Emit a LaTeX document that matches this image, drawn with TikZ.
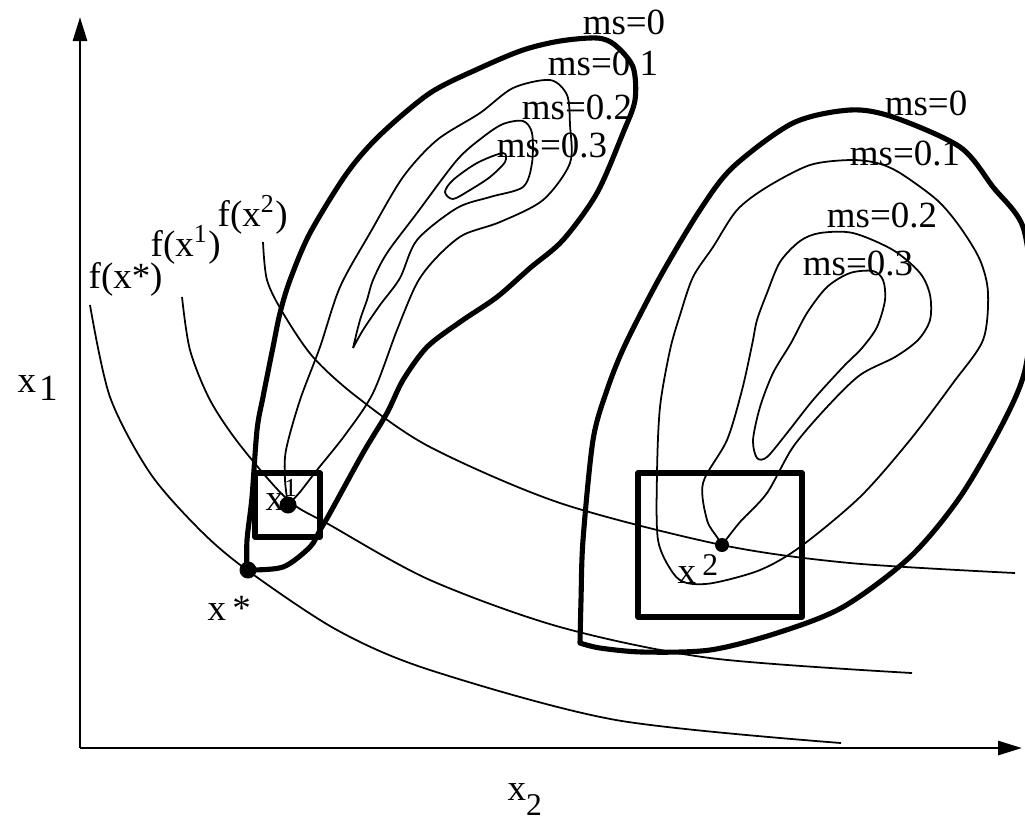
\documentclass[tikz,border=0pt]{standalone}
\usepackage{fontspec}
\setmainfont{Liberation Serif}
\usetikzlibrary{arrows.meta}
\begin{document}
\begin{tikzpicture}[x=0.01cm,y=-0.01cm,
  thickc/.style={line width=1.45pt, line join=round, line cap=round},
  thinc/.style={line width=0.5pt, line join=round},
  iso/.style={line width=0.5pt},
  boxc/.style={line width=1.5pt, line join=round},
  axis/.style={line width=0.8pt, -{Triangle[length=0.24cm,width=0.14cm]}},
  lbl/.style={font=\fontsize{10.5pt}{12pt}\selectfont, inner sep=0pt},
  dot/.style={circle, fill, inner sep=0pt, minimum size=0.17cm}]
\useasboundingbox (0,0) rectangle (1025,817);

% axes
\coordinate (O) at (80,748);
\coordinate (ytop) at (80,17);
\coordinate (xend) at (1022,748);
\draw[axis] (O) -- (ytop);
\draw[axis] (O) -- (xend);

% left region: ms=0 (thick)
\draw[thickc] plot[smooth] coordinates {(247,570) (283,567) (310,547) (320,530) (330,513) (363,453) (387,413) (403,380) (427,347) (460,322) (497,297) (530,268) (563,240) (597,193) (623,133) (635,100) (633,67) (615,45) (597,38) (560,41) (523,50) (480,68) (430,93) (380,135) (347,173) (310,233) (290,280) (280,313) (273,347) (263,397) (257,430) (252,497) (247,540) (247,570)};
% left ms=0.1
\draw[thinc] plot[smooth] coordinates {(288,505) (285,480) (286,450) (300,400) (320,347) (340,287) (370,233) (403,177) (437,140) (480,113) (513,88) (550,80) (567,95) (570,125) (570,163) (543,200) (500,222) (463,235) (437,257) (417,283) (397,330) (373,393) (345,435) (317,470) (300,492) (288,505)};
% left ms=0.2
\draw[thinc] plot[smooth] coordinates {(353,348) (360,320) (367,300) (373,280) (387,253) (417,213) (457,160) (483,137) (503,124) (523,121) (532,133) (532,163) (523,187) (490,197) (457,208) (417,240) (400,278) (380,305) (363,330) (353,348)};
% left ms=0.3
\draw[thinc] plot[smooth cycle] coordinates {(445,192) (453,180) (477,163) (503,153) (505,162) (490,177) (470,190) (453,199)};

% right region: ms=0 (thick)
\draw[thickc] plot[smooth] coordinates {(580,643) (581,600) (583,540) (593,440) (607,390) (625,345) (660,277) (700,210) (733,167) (793,123) (850,110) (893,117) (960,147) (993,187) (1023,227) (1032,300) (1025,370) (1003,423) (960,497) (910,557) (843,607) (777,633) (710,650) (643,652) (600,648) (580,643)};
% right ms=0.1
\draw[thinc] plot[smooth cycle] coordinates {(850,160) (877,163) (900,173) (937,200) (960,227) (980,260) (988,293) (983,340) (953,383) (910,440) (860,497) (800,547) (760,570) (713,583) (687,583) (673,573) (658,540) (657,473) (660,407) (670,350) (680,315) (693,277) (713,247) (737,210) (767,187) (810,165)};
% right ms=0.2
\draw[thinc] plot[smooth] coordinates {(722,545) (717,537) (707,520) (703,483) (727,440) (742,390) (752,345) (757,320) (767,293) (780,262) (800,241) (820,233) (853,233) (893,250) (920,273) (930,295) (930,320) (918,340) (895,357) (860,375) (827,407) (793,447) (767,493) (740,522) (722,545)};
% right ms=0.3
\draw[thinc] plot[smooth cycle] coordinates {(850,273) (873,271) (883,280) (885,300) (877,327) (862,348) (843,367) (813,400) (787,433) (767,457) (757,458) (753,440) (760,407) (773,373) (791,343) (807,313) (827,287)};

% level curves of f
\draw[iso] plot[smooth] coordinates {(90,305) (110,397) (150,473) (200,530) (247,570) (337,630) (430,670) (616,720) (841,743)};
\draw[iso] plot[smooth] coordinates {(182,297) (190,350) (210,400) (240,445) (288,500) (330,525) (430,580) (560,627) (710,658) (912,673)};
\draw[iso] plot[smooth] coordinates {(263,242) (267,280) (283,313) (313,357) (357,397) (430,447) (560,503) (722,545) (850,563) (1015,573)};

% trust-region boxes
\draw[boxc] (255,473) rectangle (320,537);
\draw[boxc] (638,473) rectangle (802,617);

% points
\node[dot] (x1) at (288,505) {};
\node[dot, minimum size=0.14cm] (x2) at (722,545) {};
\node[dot] (xs) at (248,570) {};

% labels
\node[lbl] (lL0) at (624,22) {ms=0};
\node[lbl] (lL1) at (603,63) {ms=0.1};
\node[lbl] (lL2) at (577,107) {ms=0.2};
\node[lbl] (lL3) at (552,145) {ms=0.3};
\node[lbl] (lR0) at (926,103) {ms=0};
\node[lbl] (lR1) at (905,153) {ms=0.1};
\node[lbl] (lR2) at (882,215) {ms=0.2};
\node[lbl] (lR3) at (858,263) {ms=0.3};

\node[lbl, anchor=base west] (fs) at (88,288) {f(x*)};
\node[lbl, anchor=base west] (f1) at (150,256) {f(x\textsuperscript{1})};
\node[lbl, anchor=base west] (f2) at (217,226) {f(x\textsuperscript{2})};

\node[lbl, anchor=base west] (lx1) at (265,510) {x\textsuperscript{1}};
\node[lbl, anchor=base west] (lx2) at (677,583) {x\,\raisebox{0.08cm}{\fontsize{9pt}{10pt}\selectfont 2}};
\node[lbl, anchor=base west] (lxs) at (207,620) {x\,*};

\node[lbl, anchor=base west] (ax1) at (17,392) {x\hspace{0.03cm}\raisebox{-0.08cm}{1}};
\node[lbl, anchor=base west] (ax2) at (507,800) {x\raisebox{-0.15cm}{\fontsize{9pt}{10pt}\selectfont 2}};
\end{tikzpicture}
\end{document}
